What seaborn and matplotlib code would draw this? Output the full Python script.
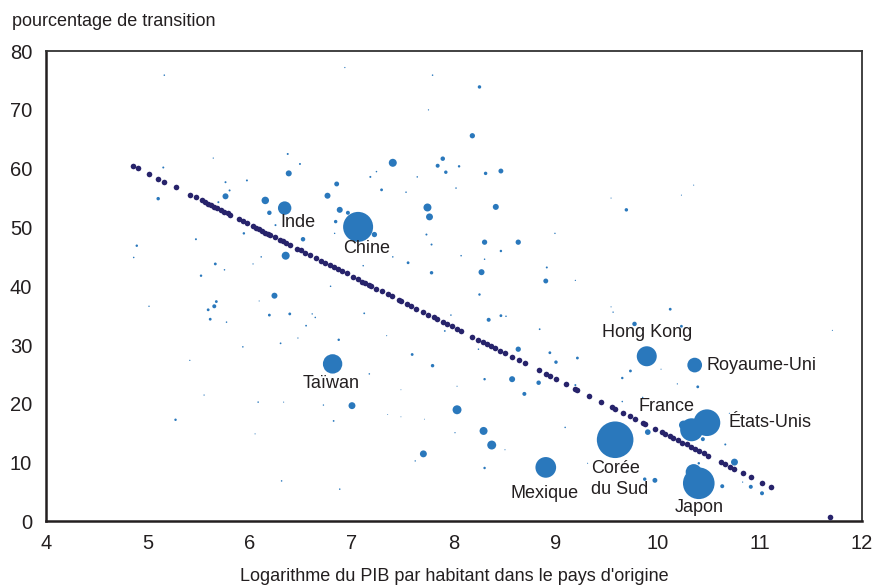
import matplotlib
matplotlib.use("Agg")
import matplotlib.pyplot as plt
import seaborn as sns
import pandas as pd

# Pays d'origine : log du PIB par habitant, pourcentage de transition, poids (taille du point)
log_pib = [6.93, 5.16, 7.79, 7.75, 8.25, 8.18, 7.40, 7.89, 7.84, 7.92,
           6.38, 6.37, 6.49, 5.64, 5.15, 5.10, 5.76, 5.80, 5.76, 5.69,
           5.97, 6.15, 6.19, 6.34, 6.25, 6.52, 6.35, 5.94, 5.47, 4.89,
           4.86, 5.66, 5.75, 5.52, 6.11, 6.03, 6.24, 6.79, 6.85, 6.76,
           6.88, 6.84, 6.96, 7.06, 7.22, 7.18, 7.29, 7.24, 7.53, 7.64,
           7.74, 7.76, 7.73, 7.78, 7.55, 7.40, 7.11, 7.78, 6.83, 8.05,
           8.31, 8.46, 8.02, 8.41, 9.69, 9.54, 10.23, 10.35, 8.99, 8.30,
           8.63, 8.46, 8.07, 8.30, 8.27, 8.91, 8.90, 9.19, 8.25, 5.01,
           5.67, 5.65, 5.59, 5.61, 5.77, 6.09, 6.19, 6.39, 6.61, 6.64,
           6.55, 7.12, 7.34, 7.91, 5.93, 5.41, 6.30, 6.47, 6.87, 6.81,
           7.17, 7.59, 7.79, 7.00, 5.55, 5.27, 6.08, 6.33, 6.72, 6.82,
           6.05, 7.35, 7.48, 7.71, 7.70, 7.62, 6.31, 6.88, 7.48, 8.34,
           8.46, 8.51, 7.97, 8.84, 9.56, 9.54, 10.12, 9.77, 10.23, 11.71,
           9.89, 10.36, 8.63, 8.94, 9.00, 9.21, 8.24, 8.30, 8.57, 8.83,
           8.69, 8.03, 9.73, 9.65, 10.03, 10.19, 10.39, 9.19, 8.03, 8.29,
           8.37, 9.09, 8.01, 8.50, 8.30, 8.90, 9.58, 9.90, 9.65, 9.87,
           9.97, 9.31, 9.85, 10.33, 10.25, 10.48, 10.44, 10.66, 10.75, 10.70,
           10.35, 10.40, 10.40, 10.63, 10.91, 11.02, 10.83]
transition = [77.2, 75.9, 75.9, 70.0, 73.9, 65.6, 61.0, 61.7, 60.5, 59.4,
              59.2, 62.5, 60.8, 61.8, 60.2, 54.9, 57.7, 56.3, 55.3, 54.3,
              58.0, 54.6, 52.5, 53.3, 50.4, 48.0, 45.2, 49.0, 48.0, 46.9,
              44.9, 43.8, 42.8, 41.8, 45.0, 43.8, 38.4, 40.0, 57.4, 55.4,
              53.0, 51.0, 52.5, 50.1, 48.8, 58.6, 56.4, 59.5, 56.0, 58.6,
              53.4, 51.8, 48.8, 47.1, 44.0, 45.0, 43.5, 42.3, 49.0, 60.4,
              59.2, 59.6, 56.7, 53.5, 53.0, 55.0, 55.5, 57.2, 49.0, 47.5,
              47.5, 46.0, 45.2, 44.6, 42.4, 43.2, 40.9, 41.0, 38.6, 36.6,
              37.4, 36.6, 36.0, 34.4, 33.9, 37.5, 35.1, 35.3, 35.3, 34.7,
              33.3, 35.4, 31.6, 32.4, 29.7, 27.4, 30.3, 31.2, 30.9, 26.8,
              25.1, 28.4, 26.5, 19.7, 21.5, 17.3, 20.3, 20.3, 19.8, 17.1,
              14.9, 18.2, 17.8, 17.4, 11.5, 10.3, 6.9, 5.5, 22.4, 34.3,
              35.0, 34.9, 35.1, 32.7, 35.6, 36.5, 36.1, 33.6, 33.2, 32.5,
              28.1, 26.6, 29.3, 28.7, 27.1, 27.8, 29.3, 24.2, 24.2, 23.6,
              21.7, 23.0, 25.6, 24.4, 25.9, 23.4, 22.9, 23.2, 19.0, 15.4,
              13.0, 16.0, 15.1, 12.2, 9.1, 9.2, 13.9, 15.2, 20.4, 7.2,
              7.0, 9.9, 21.1, 15.6, 16.4, 16.8, 14.0, 13.1, 10.1, 18.4,
              8.4, 6.5, 9.9, 6.0, 5.9, 4.8, 6.7]
poids = [0.4, 0.6, 0.6, 0.4, 3, 7, 16, 5, 4, 3,
         9, 1, 1, 0.4, 1, 3, 1, 1, 9, 1,
         1, 14, 5, 45, 1, 5, 16, 1.5, 1, 1.5,
         0.6, 2, 0.6, 1.5, 0.6, 0.4, 9, 0.6, 6, 9,
         9, 3, 4, 225, 7, 1, 2, 0.6, 0.6, 0.6,
         16, 12, 1, 1, 2, 0.6, 0.6, 3, 0.5, 1.5,
         3, 6, 0.6, 9, 3, 0.3, 0.3, 0.3, 0.5, 7,
         7, 1.5, 0.6, 0.6, 9, 1, 6, 0.4, 1.5, 0.5,
         2, 4, 2, 2, 0.6, 0.3, 2, 2, 0.5, 0.6,
         0.8, 0.8, 0.3, 0.8, 0.6, 0.4, 0.8, 0.4, 1.5, 94,
         0.6, 2, 3, 12, 0.4, 1.5, 0.6, 0.3, 0.5, 0.8,
         0.3, 0.2, 0.2, 0.2, 12, 0.5, 0.6, 0.6, 0.2, 4,
         2, 0.6, 0.6, 0.8, 0.5, 0.3, 2, 5, 2, 0.3,
         100, 54, 7, 2, 3, 2, 0.6, 1.5, 9, 5,
         4, 0.3, 2, 1.5, 0.3, 0.4, 2, 1, 20, 16,
         20, 0.6, 0.4, 0.3, 1.5, 107, 335, 8, 0.6, 3,
         6, 0.3, 0.5, 132, 20, 178, 4, 1, 12, 0.3,
         64, 250, 1.5, 4, 4, 4, 0.4]

# Valeurs ajustees (droite de regression)
fit_x = [4.85, 4.90, 5.01, 5.10, 5.16, 5.27, 5.41, 5.47, 5.53, 5.56,
         5.59, 5.62, 5.65, 5.68, 5.72, 5.75, 5.78, 5.80, 5.89, 5.93,
         5.97, 6.03, 6.06, 6.09, 6.12, 6.15, 6.18, 6.20, 6.25, 6.29,
         6.32, 6.35, 6.39, 6.46, 6.50, 6.54, 6.59, 6.65, 6.70, 6.74,
         6.78, 6.82, 6.86, 6.90, 6.95, 7.01, 7.06, 7.10, 7.13, 7.17,
         7.19, 7.24, 7.29, 7.35, 7.39, 7.46, 7.48, 7.54, 7.58, 7.63,
         7.70, 7.75, 7.80, 7.83, 7.89, 7.93, 7.98, 8.03, 8.07, 8.18,
         8.24, 8.28, 8.32, 8.36, 8.40, 8.45, 8.50, 8.57, 8.64, 8.70,
         8.83, 8.90, 8.94, 9.00, 9.10, 9.19, 9.21, 9.32, 9.44, 9.55,
         9.58, 9.66, 9.73, 9.77, 9.85, 9.87, 9.97, 10.04, 10.07, 10.12,
         10.15, 10.20, 10.24, 10.28, 10.32, 10.36, 10.40, 10.45, 10.49, 10.62,
         10.66, 10.71, 10.75, 10.83, 10.91, 11.02, 11.11, 11.69]
fit_y = [60.5, 60.1, 59.1, 58.3, 57.8, 56.8, 55.6, 55.1, 54.6, 54.3,
         54.0, 53.8, 53.5, 53.3, 52.9, 52.6, 52.4, 52.2, 51.4, 51.1,
         50.7, 50.2, 49.9, 49.7, 49.4, 49.1, 48.9, 48.7, 48.3, 47.9,
         47.7, 47.4, 47.1, 46.4, 46.1, 45.7, 45.3, 44.8, 44.3, 44.0,
         43.6, 43.3, 42.9, 42.6, 42.2, 41.6, 41.2, 40.8, 40.6, 40.2,
         40.1, 39.6, 39.2, 38.7, 38.3, 37.7, 37.5, 37.0, 36.7, 36.2,
         35.6, 35.2, 34.7, 34.5, 33.9, 33.6, 33.2, 32.7, 32.4, 31.4,
         30.9, 30.5, 30.2, 29.8, 29.5, 29.0, 28.6, 28.0, 27.4, 26.9,
         25.7, 25.1, 24.8, 24.2, 23.4, 22.6, 22.4, 21.4, 20.4, 19.4,
         19.2, 18.5, 17.9, 17.5, 16.8, 16.6, 15.8, 15.2, 14.9, 14.5,
         14.2, 13.8, 13.4, 13.1, 12.7, 12.4, 12.0, 11.6, 11.2, 10.1,
         9.7, 9.3, 8.9, 8.2, 7.5, 6.6, 5.8, 0.7]

# Etiquettes des pays
noms = ["Inde", "Chine", "Taïwan", "Hong Kong", "Royaume-Uni", "France",
        "États-Unis", "Corée\ndu Sud", "Mexique", "Japon"]
noms_x = [6.30, 7.14, 6.80, 9.89, 10.48, 10.08, 10.69, 9.34, 8.89, 10.40]
noms_y = [50.9, 46.4, 23.4, 32.2, 26.6, 19.5, 16.9, 7.2, 4.7, 2.3]
noms_ha = ["left", "center", "center", "center", "left", "center",
           "left", "left", "center", "center"]

bleu = "#2a78bc"
marine = "#27236b"
texte = "#231f20"

sns.set_style("white")
plt.rcParams["font.family"] = ["Liberation Sans Narrow", "Liberation Sans", "DejaVu Sans"]

df = pd.DataFrame({"log_pib": log_pib, "transition": transition, "poids": poids})
fit = pd.DataFrame({"x": fit_x, "y": fit_y})

fig = plt.figure(figsize=(8.81, 5.87), dpi=100)
ax = fig.add_axes([0.0522, 0.1116, 0.9262, 0.8014])

px = 1.44  # diametre en points pour un rayon d'un pixel
sns.scatterplot(data=df, x="log_pib", y="transition", size="poids",
                sizes=(0, px * px * 335), size_norm=(0, 335),
                color=bleu, linewidth=0, legend=False, ax=ax, zorder=2)
sns.scatterplot(data=fit, x="x", y="y", color=marine, s=(px * 2.8) ** 2,
                linewidth=0, legend=False, ax=ax, zorder=3)

for nom, tx, ty, ha in zip(noms, noms_x, noms_y, noms_ha):
    ax.text(tx, ty, nom, ha=ha, va="center", fontsize=13, color=texte,
            linespacing=1.35, zorder=4)

ax.set_xlim(4, 12)
ax.set_ylim(0, 80)
ax.set_xticks(range(4, 13))
ax.set_yticks(range(0, 81, 10))
ax.tick_params(direction="in", length=4, width=1, labelsize=14.5,
               colors=texte, labelcolor=texte)
ax.tick_params(axis="x", pad=9)
ax.tick_params(axis="y", pad=10)
ax.set_xlabel("Logarithme du PIB par habitant dans le pays d'origine",
              fontsize=13, color=texte, labelpad=11)
ax.set_ylabel("")
for side in ["left", "bottom"]:
    ax.spines[side].set_linewidth(1.8)
    ax.spines[side].set_color(texte)
for side in ["top", "right"]:
    ax.spines[side].set_linewidth(1.3)
    ax.spines[side].set_color("#333333")

fig.text(12 / 881, 1 - 22 / 587, "pourcentage de transition", fontsize=13,
         color=texte, ha="left", va="center")

fig.savefig("out.png", dpi=100)
